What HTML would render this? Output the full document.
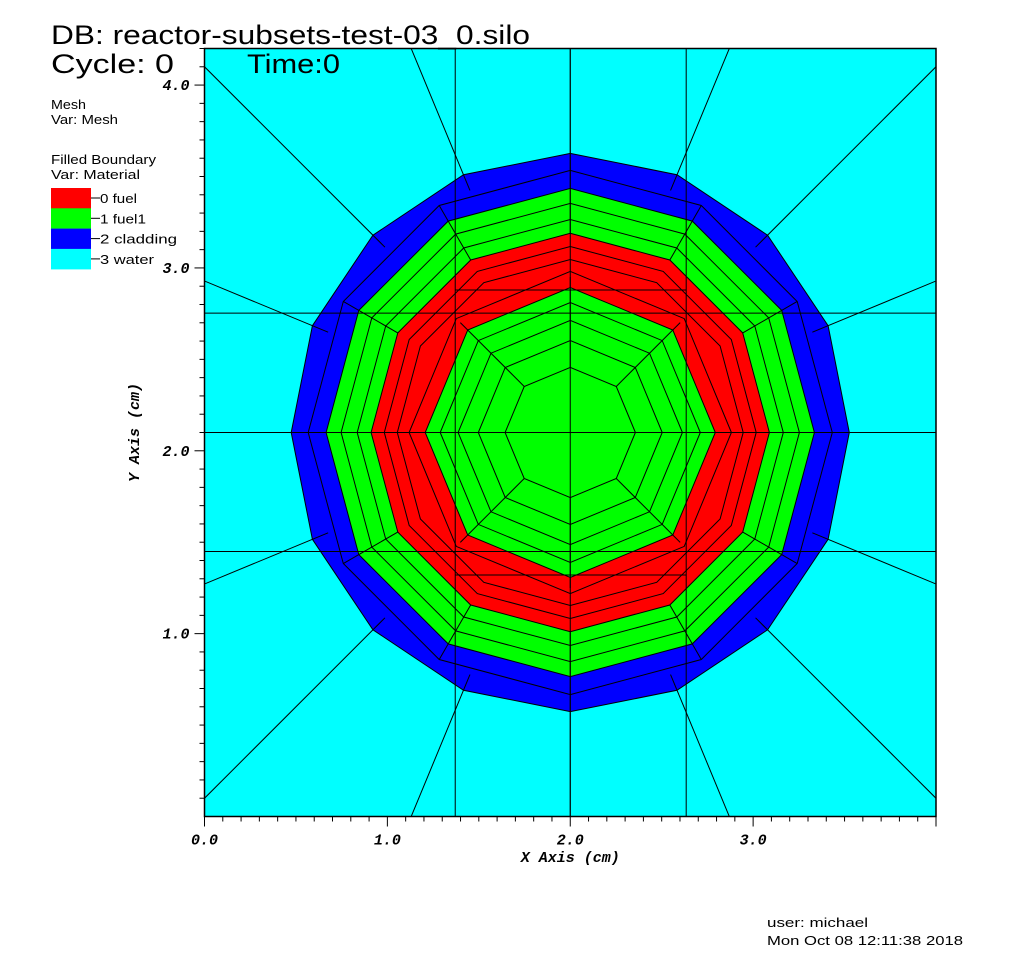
<!DOCTYPE html>
<html><head><meta charset="utf-8"><style>
html,body{margin:0;background:#fff;width:1024px;height:961px;overflow:hidden}
svg{display:block}
.t{font-family:"Liberation Sans",sans-serif;fill:#000}
.m{font-family:"Liberation Mono",monospace;font-weight:bold;font-style:italic;font-size:15px;fill:#000}
</style></head><body>
<svg id="s" width="1024" height="961" xmlns="http://www.w3.org/2000/svg">
<g id="plot"></g>
<text class="t" x="51" y="44" font-size="27" textLength="479" lengthAdjust="spacingAndGlyphs">DB: reactor-subsets-test-03_0.silo</text>
<text class="t" x="51" y="73" font-size="27" textLength="123" lengthAdjust="spacingAndGlyphs">Cycle: 0</text>
<text class="t" x="247" y="73" font-size="27" textLength="93" lengthAdjust="spacingAndGlyphs">Time:0</text>
<text class="t" x="51" y="109" font-size="13" textLength="35" lengthAdjust="spacingAndGlyphs">Mesh</text>
<text class="t" x="51" y="124" font-size="13" textLength="67" lengthAdjust="spacingAndGlyphs">Var: Mesh</text>
<text class="t" x="51" y="164" font-size="13" textLength="105" lengthAdjust="spacingAndGlyphs">Filled Boundary</text>
<text class="t" x="51" y="179" font-size="13" textLength="89" lengthAdjust="spacingAndGlyphs">Var: Material</text>
<g id="legend"></g>
<text class="t" x="767" y="927" font-size="13" textLength="101" lengthAdjust="spacingAndGlyphs">user: michael</text>
<text class="t" x="767" y="945" font-size="13" textLength="196" lengthAdjust="spacingAndGlyphs">Mon Oct 08 12:11:38 2018</text>
</svg>
<script>
const matNames=["0 fuel","1 fuel1","2 cladding","3 water"];
const matLabelWidths=[37,46,77,54];
const matColors=["#ff0000","#00ff00","#0000ff","#00ffff"];
const center=[2.0,2.1];
const fillRadii=[1.526,1.335,1.089,0.793];
const fillSides=[16,12,12,8];
const fillMat=[2,1,0,1];
const lineRadii=[0.356,0.503,0.613,0.711,0.793,0.881,0.946,1.017,1.089,1.165,1.253,1.335,1.433,1.526];
const lineSides=[8,8,8,8,8,8,12,12,12,12,12,12,12,16];
const meshX=[1.371,2.0,2.634];
const meshY=[1.449,2.1,2.753];
const shortY=[1.321,2.879];
const xTicks=[0,1,2,3];
const xTickLabels=["0.0","1.0","2.0","3.0"];
const yTicks=[1,2,3,4];
const yTickLabels=["1.0","2.0","3.0","4.0"];
const X0=0,X1=4.0,Y0=0,Y1=4.2;
const L=204.5,R=936,B=816.5,T=48.5;
const sx=v=>L+(v-X0)/(X1-X0)*(R-L);
const sy=v=>B-(v-Y0)/(Y1-Y0)*(B-T);
const ns="http://www.w3.org/2000/svg";
function mk(tag,at,parent){const e=document.createElementNS(ns,tag);for(const k in at)e.setAttribute(k,at[k]);parent.appendChild(e);return e;}
const plot=document.getElementById('plot');
const lg=document.getElementById('legend');
matNames.forEach((n,i)=>{
  const r=mk('rect',{x:51,y:188+i*20.3,width:40,height:20.5,fill:matColors[i]},lg);
  
  
  mk('line',{x1:91,x2:100,y1:198+i*20.3,y2:198+i*20.3,stroke:'#000'},lg);
  const t=mk('text',{x:100,y:203+i*20.3,'font-size':13,class:'t',textLength:matLabelWidths[i],lengthAdjust:'spacingAndGlyphs'},lg);t.textContent=n;
  
  
});
const bg=mk('rect',{x:L,y:T,width:R-L,height:B-T,fill:matColors[3]},plot);


const cx=sx(center[0]),cy=sy(center[1]),pxu=(R-L)/(X1-X0);
function polyPts(r,n){let p=[];for(let k=0;k<n;k++){const a=k*2*Math.PI/n;p.push((cx+r*pxu*Math.cos(a)).toFixed(1)+','+(cy-r*pxu*Math.sin(a)).toFixed(1));}return p.join(' ');}
fillRadii.forEach((r,i)=>{
  const p=mk('polygon',{points:polyPts(r,fillSides[i]),fill:matColors[fillMat[i]]},plot);
  
  
});
lineRadii.forEach((r,i)=>{
  const p=mk('polygon',{points:polyPts(r,lineSides[i]),fill:'none',stroke:'#000','stroke-width':1},plot);
  
  
});
const cp=mk('clipPath',{id:'cp'},plot);mk('rect',{x:L,y:T,width:R-L,height:B-T},cp);
const lines=mk('g',{'clip-path':'url(#cp)',stroke:'#000','stroke-width':1},plot);
function spoke(a,r0,r1){mk('line',{x1:cx+r0*pxu*Math.cos(a),y1:cy-r0*pxu*Math.sin(a),x2:cx+r1*pxu*Math.cos(a),y2:cy-r1*pxu*Math.sin(a)},lines);}
for(let k=0;k<8;k++)spoke(k*Math.PI/4,0.356,0.85);
for(let k=0;k<12;k++)spoke(k*Math.PI/6,1.089,1.433);
for(let k=0;k<16;k++)spoke(k*Math.PI/8,1.433,4);
meshX.forEach(v=>mk('line',{x1:sx(v),x2:sx(v),y1:T,y2:B},lines));
meshY.forEach(v=>mk('line',{x1:L,x2:R,y1:sy(v),y2:sy(v)},lines));
shortY.forEach(v=>mk('line',{x1:sx(1.371),x2:sx(2.634),y1:sy(v),y2:sy(v)},lines));
const fr=mk('rect',{x:L,y:T,width:R-L,height:B-T,fill:'none',stroke:'#000','stroke-width':1.5},plot);


const ax=mk('g',{stroke:'#000','stroke-width':1},plot);
for(let i=0;i<=40;i++){const v=i/10,x=sx(v);mk('line',{x1:x,x2:x,y1:B,y2:B+(i%10==0?10:5)},ax);}
for(let i=1;i<=42;i++){const v=i/10,y=sy(v);mk('line',{x1:L,x2:L-(i%10==0?10:5),y1:y,y2:y},ax);}
xTicks.forEach((v,i)=>{const t=mk('text',{x:sx(v),y:B+28,'text-anchor':'middle',class:'m'},plot);t.textContent=xTickLabels[i];
  
  });
yTicks.forEach((v,i)=>{const t=mk('text',{x:L-15,y:sy(v)+5,'text-anchor':'end',class:'m'},plot);t.textContent=yTickLabels[i];
  
  });
const xt=mk('text',{x:(L+R)/2,y:862,'text-anchor':'middle',class:'m'},plot);xt.textContent='X Axis (cm)';


const yt=mk('text',{x:0,y:0,'text-anchor':'middle',class:'m',transform:'translate(139,'+((T+B)/2)+') rotate(-90)'},plot);yt.textContent='Y Axis (cm)';


</script>
</body></html>
